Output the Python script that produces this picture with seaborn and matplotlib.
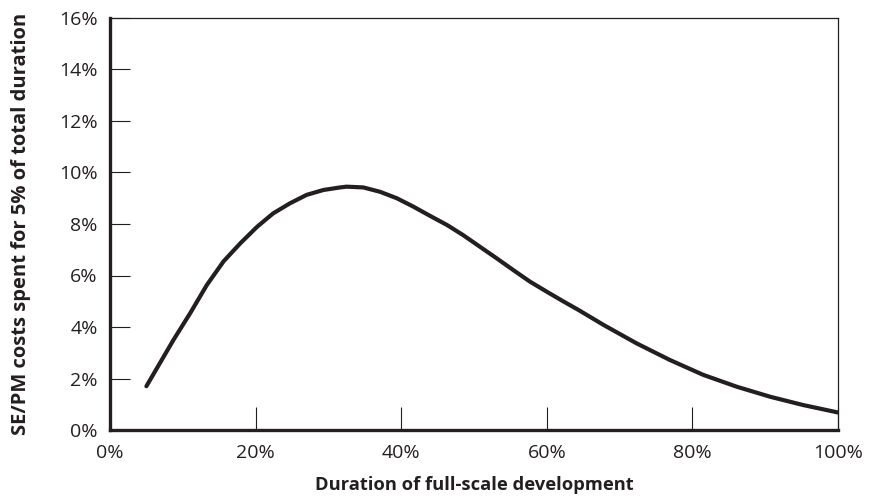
import matplotlib
matplotlib.use("Agg")
import matplotlib.pyplot as plt
import seaborn as sns
import pandas as pd
from matplotlib.ticker import FuncFormatter

# Share of full-scale development duration (%) and SE/PM cost share (%)
duration_pct = [5.0, 8.7, 11.0, 13.3, 15.6, 17.9, 20.2, 22.4, 24.7, 27.0, 29.3, 31.6,
                32.5, 34.8, 37.1, 39.4, 41.7, 44.0, 46.3, 48.5, 50.8, 53.1, 55.4, 57.7,
                60.0, 62.3, 64.3, 67.8, 72.3, 76.9, 81.5, 86.1, 90.7, 95.2, 100.0]
cost_pct = [1.70, 3.49, 4.53, 5.63, 6.55, 7.25, 7.89, 8.41, 8.80, 9.13, 9.32, 9.42,
            9.45, 9.42, 9.25, 9.00, 8.67, 8.31, 7.96, 7.57, 7.12, 6.67, 6.21, 5.76,
            5.37, 4.99, 4.67, 4.08, 3.37, 2.72, 2.14, 1.68, 1.29, 0.97, 0.68]

x_ticks = [0, 20, 40, 60, 80, 100]
y_ticks = [0, 2, 4, 6, 8, 10, 12, 14, 16]

df = pd.DataFrame({"duration": duration_pct, "cost": cost_pct})

sns.set_theme(style="white")
ink = "#231f20"
plt.rcParams["font.family"] = ["Open Sans", "DejaVu Sans"]
plt.rcParams["text.color"] = ink

fig = plt.figure(figsize=(8.72, 4.99), dpi=100)
ax = fig.add_axes([110 / 872, 1 - 430 / 499, 728 / 872, 412 / 499])

sns.lineplot(data=df, x="duration", y="cost", ax=ax, color=ink, linewidth=3.0,
             solid_capstyle="round", solid_joinstyle="round")

ax.set_xlim(0, 100)
ax.set_ylim(0, 16)
ax.set_xticks(x_ticks)
ax.set_yticks(y_ticks)
pct = FuncFormatter(lambda v, _: f"{v:.0f}%")
ax.xaxis.set_major_formatter(pct)
ax.yaxis.set_major_formatter(pct)

ax.tick_params(axis="x", direction="in", length=16.5, width=0.8, color=ink,
               labelsize=14, labelcolor=ink, pad=10, bottom=True)
ax.tick_params(axis="y", direction="in", length=14.4, width=0.8, color=ink,
               labelsize=14, labelcolor=ink, pad=9, left=True)

for side in ["left", "bottom"]:
    ax.spines[side].set_linewidth(2.4)
    ax.spines[side].set_color(ink)
for side in ["top", "right"]:
    ax.spines[side].set_linewidth(0.9)
    ax.spines[side].set_color(ink)
for side in ax.spines.values():
    side.set_visible(True)

ax.set_xlabel("Duration of full-scale development", fontsize=13.2, fontweight="bold",
              color=ink, labelpad=10)
ax.set_ylabel("SE/PM costs spent for 5% of total duration", fontsize=14.5,
              fontweight="bold", color=ink, labelpad=20)

fig.savefig("out.png", dpi=100, facecolor="white")
